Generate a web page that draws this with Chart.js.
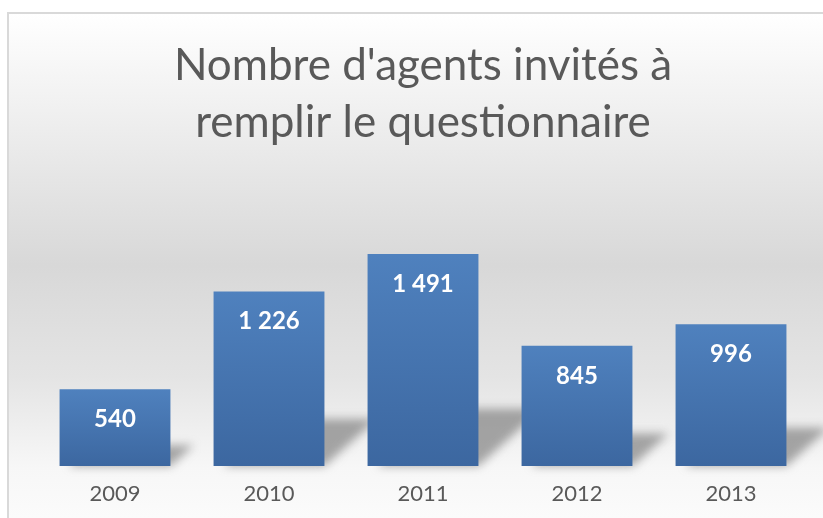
<!DOCTYPE html>
<html>
<head>
<meta charset="utf-8">
<script src="https://cdn.jsdelivr.net/npm/chart.js@4"></script>
<style>
  html, body { margin: 0; padding: 0; background: #fff; }
  #wrap { width: 823px; height: 518px; position: relative; }
</style>
</head>
<body>
<div id="wrap"><canvas id="agentsChart" width="823" height="518"></canvas></div>
<script>
const years = ["2009", "2010", "2011", "2012", "2013"];
const agents = [540, 1226, 1491, 845, 996];
const titleLines = ["Nombre d'agents invités à", "remplir le questionnaire"];

function fmt(v) {
  return String(v).replace(/\B(?=(\d{3})+(?!\d))/g, " ");
}

// background panel with vertical grey gradient + border
const panelBg = {
  id: "panelBg",
  beforeDraw(chart) {
    const c = chart.ctx;
    const g = c.createLinearGradient(0, 13, 0, 518);
    g.addColorStop(0, "#ffffff");
    g.addColorStop(0.5, "#d8d8d8");
    g.addColorStop(0.72, "#e4e4e4");
    g.addColorStop(0.9, "#f7f7f7");
    g.addColorStop(1, "#fbfbfb");
    c.save();
    c.fillStyle = g;
    c.fillRect(9, 14, chart.width - 9, chart.height - 14);
    c.fillStyle = "#d9d9d9";
    c.fillRect(8, 12, chart.width - 8, 2);
    c.fillRect(7, 12, 2, chart.height - 12);
    c.restore();
  }
};

// soft skewed shadow behind each bar
const barShadow = {
  id: "barShadow",
  beforeDatasetsDraw(chart) {
    const c = chart.ctx;
    const meta = chart.getDatasetMeta(0);
    c.save();
    c.filter = "blur(5px)";
    c.fillStyle = "rgba(110,110,110,0.6)";
    meta.data.forEach(bar => {
      const h = bar.base - bar.y;
      const half = bar.width / 2;
      const rise = h * 0.27;
      const shift = h * 0.3;
      c.beginPath();
      c.moveTo(bar.x - half + 10, bar.base);
      c.lineTo(bar.x + half, bar.base);
      c.lineTo(bar.x + half + shift, bar.base - rise);
      c.lineTo(bar.x - half + shift, bar.base - rise);
      c.closePath();
      c.fill();
    });
    c.restore();
  }
};

// value labels inside the top of bars
const barLabels = {
  id: "barLabels",
  afterDatasetsDraw(chart) {
    const c = chart.ctx;
    const meta = chart.getDatasetMeta(0);
    c.save();
    c.font = "bold 24px Lato";
    c.fillStyle = "#ffffff";
    c.textAlign = "center";
    c.textBaseline = "middle";
    meta.data.forEach((bar, i) => {
      c.fillText(fmt(agents[i]), bar.x, bar.y + 30);
    });
    c.restore();
  }
};

function barGradient(context) {
  const chart = context.chart;
  if (!chart.chartArea || context.dataIndex === undefined) return "#4a77b0";
  const y = chart.scales.y;
  const top = y.getPixelForValue(context.raw);
  const base = y.getPixelForValue(0);
  if (!isFinite(top) || top === base) return "#4a77b0";
  const g = chart.ctx.createLinearGradient(0, top, 0, base);
  g.addColorStop(0, "#4f81be");
  g.addColorStop(1, "#3c67a0");
  return g;
}

const ctx = document.getElementById("agentsChart").getContext("2d");
new Chart(ctx, {
  type: "bar",
  data: {
    labels: years,
    datasets: [{
      data: agents,
      backgroundColor: barGradient,
      borderWidth: 0,
      barPercentage: 0.72,
      categoryPercentage: 1
    }]
  },
  options: {
    responsive: false,
    animation: false,
    layout: { padding: { top: 13, left: 38, right: 15, bottom: 0 } },
    plugins: {
      legend: { display: false },
      tooltip: { enabled: false },
      title: {
        display: true,
        text: titleLines,
        color: "#595959",
        font: { family: "Lato", size: 44, weight: "normal", lineHeight: 1.3 },
        padding: { top: 24, bottom: 87 }
      }
    },
    scales: {
      x: {
        grid: { display: false, drawTicks: false },
        border: { display: false },
        ticks: { color: "#595959", font: { family: "Lato", size: 22 }, padding: 15 },
        afterFit(scale) { scale.height = 52; }
      },
      y: {
        display: false,
        min: 0,
        max: 1600
      }
    }
  },
  plugins: [panelBg, barShadow, barLabels]
});
</script>
</body>
</html>
